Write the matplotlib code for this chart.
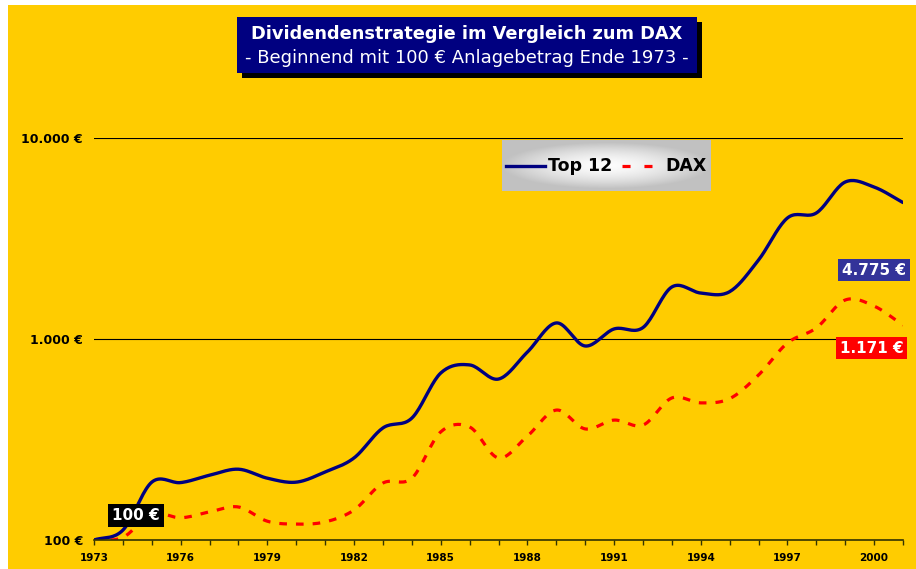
import numpy as np
import matplotlib
matplotlib.use('Agg')
import matplotlib.pyplot as plt
from matplotlib.patches import Rectangle
from matplotlib.ticker import FixedLocator, FuncFormatter, NullLocator

# yearly values (end of year), start 100 EUR at end of 1973
years = list(range(1973, 2002))
top12 = [100, 112, 194, 193, 210, 225, 203, 194, 218, 256, 361, 404, 677, 743, 632, 861,
         1202, 923, 1122, 1140, 1815, 1693, 1720, 2472, 4000, 4236, 6040, 5700, 4775]
dax = [100, 103, 135, 129, 138, 146, 124, 120, 123, 141, 192, 203, 345, 365, 256, 329,
       443, 357, 395, 373, 509, 481, 505, 662, 955, 1135, 1563, 1458, 1171]
y_ticks = [100, 1000, 10000]
year_labels = [1973, 1976, 1979, 1982, 1985, 1988, 1991, 1994, 1997, 2000]
series_names = ['Top 12', 'DAX']

title = 'Dividendenstrategie im Vergleich zum DAX'
subtitle = '- Beginnend mit 100 € Anlagebetrag Ende 1973 -'

YELLOW = '#FFCC00'
NAVY = '#000080'
RED = '#FF0000'


def smooth(xs, ys, n=20):
    # catmull-rom through the points, done in log space like the excel smoothed line
    xs = np.asarray(xs, float)
    ly = np.log10(np.asarray(ys, float))
    px = np.concatenate([[2 * xs[0] - xs[1]], xs, [2 * xs[-1] - xs[-2]]])
    py = np.concatenate([[2 * ly[0] - ly[1]], ly, [2 * ly[-1] - ly[-2]]])
    out_x, out_y = [], []
    t = np.linspace(0, 1, n, endpoint=False)
    for i in range(1, len(px) - 2):
        p0, p1, p2, p3 = py[i - 1], py[i], py[i + 1], py[i + 2]
        yy = 0.5 * ((2 * p1) + (-p0 + p2) * t + (2 * p0 - 5 * p1 + 4 * p2 - p3) * t ** 2
                    + (-p0 + 3 * p1 - 3 * p2 + p3) * t ** 3)
        out_x.extend(px[i] + (px[i + 1] - px[i]) * t)
        out_y.extend(yy)
    out_x.append(xs[-1])
    out_y.append(ly[-1])
    return np.array(out_x), 10 ** np.array(out_y)


def fx(x):
    return x / 916.0


def fy(y):
    return 1 - y / 569.0


plt.rcParams['font.family'] = ['DejaVu Sans']
plt.rcParams['lines.scale_dashes'] = False

fig = plt.figure(figsize=(9.16, 5.69), dpi=100, facecolor='white')
fig.patches.append(Rectangle((fx(8), 0), 1 - fx(8), fy(5), transform=fig.transFigure,
                             facecolor=YELLOW, edgecolor='none', zorder=-10))

ax = fig.add_axes([fx(94), fy(540), fx(903) - fx(94), fy(138) - fy(540)])
ax.set_facecolor('none')

sx, sy = smooth(years, top12)
ax.plot(sx, sy, color=NAVY, lw=2.4, solid_capstyle='round', zorder=4)
dx, dy = smooth(years, dax)
ax.plot(dx, dy, color=RED, lw=2.3, dashes=(5.5, 6.5), zorder=3)

ax.set_yscale('log')
ax.set_ylim(100, 10000)
ax.set_xlim(years[0], years[-1])
ax.yaxis.set_major_locator(FixedLocator(y_ticks))
ax.yaxis.set_minor_locator(NullLocator())
ax.yaxis.set_major_formatter(FuncFormatter(lambda v, p: f'{int(v):,} €'.replace(',', '.')))
ax.tick_params(axis='y', length=0, pad=8, labelsize=9)
for lab in ax.get_yticklabels():
    lab.set_fontweight('bold')
ax.grid(axis='y', color='black', lw=0.8)

ax.xaxis.set_major_locator(FixedLocator(years))
ax.xaxis.set_major_formatter(FuncFormatter(lambda v, p: str(int(round(v))) if int(round(v)) in year_labels else ''))
ax.tick_params(axis='x', length=3.5, width=1, color='#333300', labelsize=7.5, pad=6)
for lab in ax.get_xticklabels():
    lab.set_fontweight('bold')

for s in ['top', 'right', 'left']:
    ax.spines[s].set_visible(False)
ax.spines['bottom'].set_color('#333300')
ax.spines['bottom'].set_linewidth(1.2)
ax.spines['bottom'].set_zorder(5)

# value labels
ax.text(1974.45, 132, f'{top12[0]} €', ha='center', va='center', color='white', fontsize=11,
        fontweight='bold', zorder=6,
        bbox=dict(boxstyle='square,pad=0.25', facecolor='black', edgecolor='none'))
ax.text(2000.0, 2203, f'{top12[-1]:,} €'.replace(',', '.'), ha='center', va='center', color='white',
        fontsize=11, fontweight='bold', zorder=6,
        bbox=dict(boxstyle='square,pad=0.25', facecolor='#333399', edgecolor='none'))
ax.text(1999.92, 902, f'{dax[-1]:,} €'.replace(',', '.'), ha='center', va='center', color='white',
        fontsize=11, fontweight='bold', zorder=6,
        bbox=dict(boxstyle='square,pad=0.25', facecolor=RED, edgecolor='none'))

# title box with shadow
fig.patches.append(Rectangle((fx(242), fy(78)), fx(702) - fx(242), fy(22) - fy(78),
                             transform=fig.transFigure, facecolor='black', edgecolor='none', zorder=1))
fig.patches.append(Rectangle((fx(237), fy(73)), fx(697) - fx(237), fy(17) - fy(73),
                             transform=fig.transFigure, facecolor=NAVY, edgecolor='none', zorder=2))
fig.text(fx(467), fy(34), title, ha='center', va='center', color='white', fontsize=12.8,
         fontweight='bold', zorder=3)
fig.text(fx(467), fy(58), subtitle, ha='center', va='center', color='white', fontsize=13, zorder=3)

# legend: grey gradient panel, drawn in pixel units of the panel
gax = fig.add_axes([fx(502), fy(191), fx(711) - fx(502), fy(140) - fy(191)])
gx, gy = np.meshgrid(np.linspace(-1, 1, 200), np.linspace(-1, 1, 50))
r = np.clip(np.sqrt(gx ** 2 + gy ** 2 * 1.2), 0, 1)
shade = 0.99 - 0.23 * r ** 1.6
gax.imshow(np.dstack([shade, shade, shade]), aspect='auto', extent=(0, 209, 0, 51))
gax.set_xlim(0, 209)
gax.set_ylim(0, 51)
gax.set_axis_off()
gax.plot([4, 43], [25, 25], color=NAVY, lw=2.4)
gax.text(46, 25, series_names[0], ha='left', va='center', fontsize=12.5, fontweight='bold')
gax.plot([120, 150], [25, 25], color=RED, lw=2.3, dashes=(5.8, 10))
gax.text(163, 25, series_names[1], ha='left', va='center', fontsize=12.5, fontweight='bold')

fig.savefig('out.png', dpi=100, facecolor=fig.get_facecolor())
